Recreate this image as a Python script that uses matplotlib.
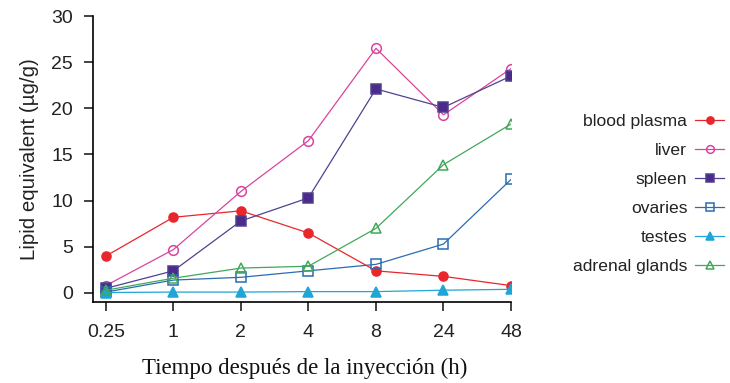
import matplotlib
matplotlib.use("Agg")
import matplotlib.pyplot as plt

times = ["0.25", "1", "2", "4", "8", "24", "48"]

blood_plasma = [4.0, 8.2, 8.9, 6.5, 2.4, 1.8, 0.8]
liver = [0.8, 4.7, 11.0, 16.5, 26.5, 19.3, 24.3]
spleen = [0.5, 2.4, 7.8, 10.3, 22.1, 20.1, 23.5]
ovaries = [0.1, 1.4, 1.7, 2.4, 3.1, 5.3, 12.3]
testes = [0.05, 0.1, 0.1, 0.15, 0.15, 0.3, 0.4]
adrenal = [0.3, 1.6, 2.7, 2.9, 7.0, 13.9, 18.3]

series = [
    ("blood plasma", blood_plasma, "#e8262b", "o", "#e8262b", 6.5),
    ("liver", liver, "#d9449f", "o", "none", 7),
    ("spleen", spleen, "#51418f", "s", "#4b2a8c", 7.5),
    ("ovaries", ovaries, "#2a6cb0", "s", "none", 7),
    ("testes", testes, "#1fa6d6", "^", "#1fa6d6", 6.5),
    ("adrenal glands", adrenal, "#41a85a", "^", "none", 7.5),
]

plt.rcParams["font.family"] = ["Liberation Sans", "DejaVu Sans"]
fig = plt.figure(figsize=(7.3, 3.83), dpi=100)
ax = fig.add_axes([93 / 730, 1 - 302 / 383, (511 - 93) / 730, (302 - 16) / 383])

x = list(range(len(times)))
for name, vals, col, mk, face, ms in series:
    ax.plot(x, vals, color=col, lw=0.9, marker=mk, markersize=ms,
            markerfacecolor=face, markeredgecolor=col, markeredgewidth=1.1,
            label=name)

ax.set_xlim(-0.19, 6)
ax.set_ylim(-0.975, 30)
ax.set_xticks(x)
ax.set_xticklabels(times)
ax.set_yticks([0, 5, 10, 15, 20, 25, 30])
for where in ["top", "right"]:
    ax.spines[where].set_visible(False)
for where in ["left", "bottom"]:
    ax.spines[where].set_linewidth(1.2)
ax.tick_params(length=6.5, width=1.2, labelsize=14, colors="#222222")
ax.tick_params(axis="x", pad=9)
ax.tick_params(axis="y", pad=8)

ax.set_ylabel("Lipid equivalent (µg/g)", fontsize=14.8, color="#222222", labelpad=9)

fig.text(305 / 730, 1 - 368 / 383, "Tiempo después de la inyección (h)",
         family=["Liberation Serif", "DejaVu Serif"], fontsize=16.5,
         ha="center", va="center", color="#111111")

leg = ax.legend(loc="center right", bbox_to_anchor=(724 / 730, 1 - 194 / 383),
                bbox_transform=fig.transFigure, frameon=False, markerfirst=False,
                fontsize=12.6, handlelength=1.65, handletextpad=0.45,
                labelspacing=0.78, borderpad=0, borderaxespad=0, markerscale=0.8)
for t in leg.get_texts():
    t.set_color("#222222")

plt.savefig("out.png", dpi=100)
